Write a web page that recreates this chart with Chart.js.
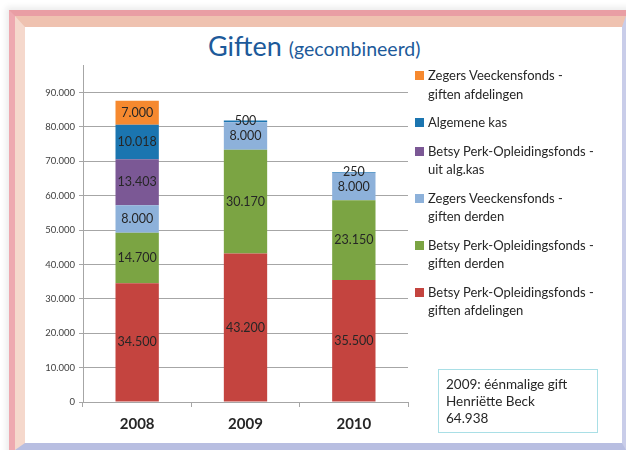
<!DOCTYPE html>
<html>
<head>
<meta charset="utf-8">
<script src="https://cdn.jsdelivr.net/npm/chart.js@4/dist/chart.umd.min.js"></script>
<style>
  html, body { margin: 0; padding: 0; background: #ffffff; }
  #wrap { position: relative; width: 626px; height: 450px; overflow: hidden; font-family: Lato, "Open Sans", sans-serif; }
  #frame1 { position: absolute; left: 9px; top: 10px; width: 630px; height: 450px; box-sizing: border-box;
            border-left: 6px solid #eea9b0; border-top: 6px solid #e99ea4; background: #fff;
            box-shadow: -3px -3px 6px rgba(0,0,0,0.08); }
  #frame2 { position: absolute; left: 15px; top: 16px; width: 611px; height: 434px; box-sizing: border-box;
            border-left: 10px solid #f5d8cc; border-top: 11px solid #efc2b0;
            border-right: 4px solid #c9cde9; border-bottom: 7px solid #b8bee1; background: #fff; }
  #title { position: absolute; left: 208px; top: 29px; color: #1d5a9a; white-space: nowrap; }
  #title .big { font-size: 27px; }
  #title .small { font-size: 19.5px; margin-left: 7px; }
  #legend { position: absolute; left: 415px; top: 66px; width: 205px; font-size: 13px; color: #262626; }
  .item { position: relative; padding-left: 13px; line-height: 18.5px; margin-bottom: 10px; white-space: nowrap; }
  .sw { position: absolute; left: 0; top: 5px; width: 9px; height: 9px; }
  #note { position: absolute; left: 438px; top: 369px; width: 160px; height: 64px; box-sizing: border-box;
          border: 1px solid #a9dfe6; padding: 6px 0 0 7px; font-size: 13.5px; line-height: 17px; color: #262626; }
  canvas { position: absolute; left: 0; top: 0; }
</style>
</head>
<body>
<div id="wrap">
  <div id="frame1"></div>
  <div id="frame2"></div>
  <div id="title"><span class="big">Giften</span><span class="small">(gecombineerd)</span></div>
  <canvas id="c" width="626" height="450"></canvas>
  <div id="legend"></div>
  <div id="note">2009: éénmalige gift<br>Henriëtte Beck<br>64.938</div>
</div>
<script>
// ---- data ----
const years = ['2008', '2009', '2010'];
const seriesNames = [
  'Betsy Perk-Opleidingsfonds - giften afdelingen',
  'Betsy Perk-Opleidingsfonds - giften derden',
  'Zegers Veeckensfonds - giften derden',
  'Betsy Perk-Opleidingsfonds - uit alg.kas',
  'Algemene kas',
  'Zegers Veeckensfonds - giften afdelingen'
];
const betsyAfdelingen   = [34500, 43200, 35500];
const betsyDerden       = [14700, 30170, 23150];
const zegersDerden      = [8000, 8000, 8000];
const betsyAlgKas       = [13403, null, null];
const algemeneKas       = [10018, 500, 250];
const zegersAfdelingen  = [7000, null, null];
const seriesColors = ['#c4443f', '#7ba443', '#8db1da', '#7b5895', '#1b75b0', '#f6892f'];
const yTickValues = [0, 10000, 20000, 30000, 40000, 50000, 60000, 70000, 80000, 90000];
const yMax = 98000;

const seriesValues = [betsyAfdelingen, betsyDerden, zegersDerden, betsyAlgKas, algemeneKas, zegersAfdelingen];

function fmt(v) {
  return String(Math.round(v)).replace(/\B(?=(\d{3})+(?!\d))/g, '.');
}

const datasets = seriesNames.map((name, i) => ({
  label: name,
  data: seriesValues[i],
  backgroundColor: seriesColors[i],
  borderWidth: 0,
  barPercentage: 1,
  categoryPercentage: 0.4
}));

const valueLabels = {
  id: 'valueLabels',
  afterDatasetsDraw(chart) {
    const ctx = chart.ctx;
    ctx.save();
    ctx.font = '12.5px Lato, "Open Sans", sans-serif';
    ctx.fillStyle = '#262626';
    ctx.textAlign = 'center';
    ctx.textBaseline = 'middle';
    chart.data.datasets.forEach((ds, di) => {
      const meta = chart.getDatasetMeta(di);
      meta.data.forEach((el, i) => {
        const v = ds.data[i];
        if (v === null || v === undefined) return;
        ctx.fillText(fmt(v), el.x, (el.y + el.base) / 2);
      });
    });
    ctx.restore();
  }
};

const chart = new Chart(document.getElementById('c'), {
  type: 'bar',
  data: { labels: years, datasets },
  options: {
    responsive: false,
    animation: false,
    devicePixelRatio: 1,
    layout: { padding: { left: 43, top: 65, right: 218, bottom: 8 } },
    plugins: { legend: { display: false }, tooltip: { enabled: false }, title: { display: false } },
    scales: {
      x: {
        stacked: true,
        afterFit(s) { s.height = 40; },
        grid: { offset: true, drawOnChartArea: false, drawTicks: true, tickLength: 5, color: '#a6a6a6' },
        border: { color: '#a6a6a6' },
        ticks: { color: '#262626', padding: 8, font: { family: 'Lato, "Open Sans", sans-serif', size: 15, weight: 'bold' } }
      },
      y: {
        stacked: true,
        min: 0,
        max: yMax,
        afterFit(s) { s.width = 40; },
        afterBuildTicks(s) { s.ticks = yTickValues.map(v => ({ value: v })); },
        grid: { color: '#a6a6a6', tickLength: 4, drawTicks: true },
        border: { color: '#a6a6a6' },
        ticks: {
          padding: 4,
          color: '#404040',
          font: { family: 'Lato, "Open Sans", sans-serif', size: 9.5 },
          callback: (v) => fmt(v)
        }
      }
    }
  },
  plugins: [valueLabels]
});

// ---- legend (reversed, like the stack) ----
const legend = document.getElementById('legend');
chart.data.datasets.slice().reverse().forEach(ds => {
  const item = document.createElement('div');
  item.className = 'item';
  const sw = document.createElement('span');
  sw.className = 'sw';
  sw.style.background = ds.backgroundColor;
  item.appendChild(sw);
  const parts = ds.label.split(' - ');
  parts.forEach((p, k) => {
    item.appendChild(document.createTextNode(p + (k < parts.length - 1 ? ' -' : '')));
    if (k < parts.length - 1) item.appendChild(document.createElement('br'));
  });
  legend.appendChild(item);
});
</script>
</body>
</html>
